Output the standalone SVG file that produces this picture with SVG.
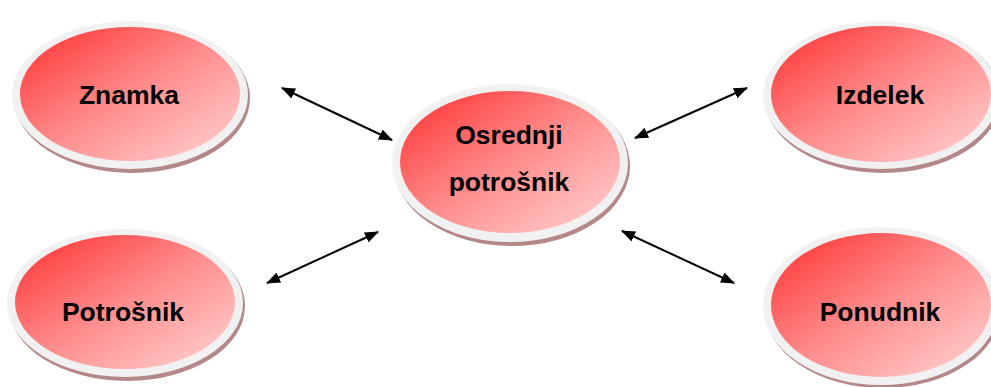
<svg xmlns="http://www.w3.org/2000/svg" width="991" height="387" viewBox="0 0 991 387">
  <defs>
    <linearGradient id="redFill" x1="0" y1="0" x2="1" y2="1">
      <stop offset="0" stop-color="#ff2e2e"/>
      <stop offset="0.5" stop-color="#ff8c8c"/>
      <stop offset="1" stop-color="#ffd6d6"/>
    </linearGradient>
    <marker id="head" viewBox="0 0 14 11" refX="13" refY="5.5" markerWidth="14" markerHeight="11" markerUnits="userSpaceOnUse" orient="auto-start-reverse">
      <path d="M0,0 L14,5.5 L0,11 Z" fill="#000"/>
    </marker>
  </defs>
  <style>
    .shadow { fill: #b48888; }
    .ring { fill: #f1f1f1; }
    .body { fill: url(#redFill); }
    .label { font-family: "Liberation Sans", Arial, sans-serif; font-weight: bold; font-size: 26.5px; fill: #000; text-anchor: middle; }
    .link { stroke: #000; stroke-width: 2; fill: none; marker-start: url(#head); marker-end: url(#head); }
  </style>

  <g id="connectors">
    <line class="link" x1="282" y1="88" x2="392" y2="140"/>
    <line class="link" x1="267" y1="283" x2="378" y2="232"/>
    <line class="link" x1="635" y1="138" x2="747" y2="88"/>
    <line class="link" x1="622" y1="231" x2="734" y2="283"/>
  </g>

  <g id="znamka">
    <ellipse class="shadow" cx="132" cy="98" rx="118" ry="75"/>
    <ellipse class="ring" cx="130" cy="95" rx="118" ry="74"/>
    <ellipse class="body" cx="130" cy="94" rx="110" ry="67"/>
    <text class="label" x="129" y="104">Znamka</text>
  </g>

  <g id="osrednji-potrosnik">
    <ellipse class="shadow" cx="512" cy="166" rx="118" ry="80"/>
    <ellipse class="ring" cx="510" cy="163" rx="118" ry="79"/>
    <ellipse class="body" cx="510" cy="162" rx="110" ry="71"/>
    <text class="label" x="509" y="144">Osrednji</text>
    <text class="label" x="509" y="191">potrošnik</text>
  </g>

  <g id="izdelek">
    <ellipse class="shadow" cx="883" cy="98" rx="118" ry="75"/>
    <ellipse class="ring" cx="881" cy="95" rx="118" ry="74"/>
    <ellipse class="body" cx="881" cy="94" rx="110" ry="68"/>
    <text class="label" x="880" y="104">Izdelek</text>
  </g>

  <g id="potrosnik">
    <ellipse class="shadow" cx="127" cy="306" rx="118" ry="75"/>
    <ellipse class="ring" cx="125" cy="303" rx="118" ry="74"/>
    <ellipse class="body" cx="125" cy="302" rx="110" ry="67"/>
    <text class="label" x="123" y="321">Potrošnik</text>
  </g>

  <g id="ponudnik">
    <ellipse class="shadow" cx="883" cy="309" rx="118" ry="79"/>
    <ellipse class="ring" cx="881" cy="306" rx="118" ry="79"/>
    <ellipse class="body" cx="881" cy="305" rx="110" ry="72"/>
    <text class="label" x="880" y="321">Ponudnik</text>
  </g>
</svg>
